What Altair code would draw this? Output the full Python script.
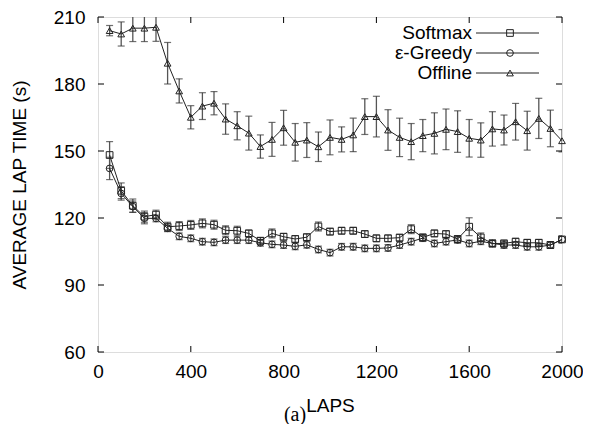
import altair as alt
import pandas as pd

laps = list(range(50, 2001, 50))

softmax = [148.2, 132.2, 125.5, 120.6, 121.5, 116.1, 116.4, 116.9, 117.6, 117.0,
           114.5, 114.3, 113.1, 109.8, 113.1, 111.6, 110.6, 111.4, 116.2, 113.9,
           114.3, 114.3, 112.8, 110.9, 110.9, 111.2, 115.0, 111.3, 113.1, 112.8,
           110.6, 116.1, 111.3, 108.6, 108.6, 109.4, 108.9, 108.9, 107.9, 110.4]
softmax_err = [6.0, 3.5, 3.0, 2.5, 2.0, 2.0, 2.0, 2.0, 2.0, 2.0,
               2.0, 2.0, 1.5, 1.5, 2.0, 1.5, 1.5, 1.5, 2.0, 1.5,
               1.5, 1.5, 1.5, 1.5, 1.5, 1.5, 2.0, 1.5, 1.5, 1.5,
               1.5, 4.0, 2.0, 1.5, 1.5, 1.5, 1.5, 1.5, 1.5, 1.5]

greedy = [142.2, 131.0, 125.1, 119.9, 119.8, 115.4, 111.8, 110.9, 109.4, 109.1,
          110.1, 110.1, 110.1, 108.9, 108.2, 107.9, 107.3, 108.0, 105.9, 104.5,
          107.1, 107.1, 106.4, 106.4, 106.6, 107.9, 109.4, 111.0, 108.6, 109.4,
          110.2, 108.6, 109.6, 108.6, 107.9, 107.9, 107.1, 107.1, 107.9, 110.4]
greedy_err = [5.0, 3.0, 2.5, 2.5, 1.5, 1.5, 1.5, 1.5, 1.5, 1.5,
              1.5, 1.5, 1.5, 1.5, 1.5, 1.5, 1.5, 1.5, 1.5, 1.5,
              1.5, 1.5, 1.5, 1.5, 1.5, 1.5, 1.5, 1.5, 1.5, 1.5,
              1.5, 1.5, 1.5, 1.5, 1.5, 1.5, 1.5, 1.5, 1.5, 1.5]

offline = [203.9, 202.4, 205.0, 205.0, 205.4, 189.3, 176.9, 165.1, 170.1, 171.4,
           164.3, 161.3, 158.0, 152.0, 155.2, 160.4, 153.9, 154.9, 151.9, 156.1,
           155.2, 157.2, 165.4, 165.4, 159.4, 156.1, 154.2, 156.9, 157.9, 159.7,
           158.7, 155.7, 154.9, 159.9, 159.4, 163.1, 159.1, 164.6, 160.1, 154.6]
offline_err = [2.3, 5.4, 6.0, 6.0, 6.3, 9.3, 5.4, 5.2, 6.0, 5.2,
               6.8, 6.3, 7.6, 5.2, 7.6, 7.8, 8.4, 7.8, 6.6, 7.8,
               5.6, 7.5, 8.0, 9.1, 9.1, 8.6, 8.1, 7.2, 9.2, 9.1,
               9.3, 8.4, 7.7, 7.7, 6.7, 8.2, 8.7, 9.0, 8.2, 5.0]

series_names = ["Softmax", "ε-Greedy", "Offline"]
shapes = ["square", "circle", "triangle-up"]
x_ticks = [0, 400, 800, 1200, 1600, 2000]
y_ticks = [60, 90, 120, 150, 180, 210]
caption = "(a)"

rows = []
for name, vals, errs in zip(series_names, [softmax, greedy, offline],
                            [softmax_err, greedy_err, offline_err]):
    for lap, v, e in zip(laps, vals, errs):
        rows.append({"lap": lap, "value": v, "lo": v - e, "hi": v + e, "series": name})
df = pd.DataFrame(rows)

FONT = "Liberation Sans"
FS = 19
W, H = 464, 335

xscale = alt.Scale(domain=[0, 2000], nice=False, zero=False)
yscale = alt.Scale(domain=[60, 210], nice=False, zero=False)
xaxis = alt.Axis(values=x_ticks, format="d", tickSize=0, domain=False, grid=False,
                 labelFont=FONT, labelFontSize=FS, labelColor="#000", labelPadding=10,
                 labelFlush=False, title="LAPS", titleFont=FONT, titleFontSize=FS,
                 titleFontWeight="normal", titleColor="#000", titlePadding=15)
yaxis = alt.Axis(values=y_ticks, format="d", tickSize=0, domain=False, grid=False,
                 labelFont=FONT, labelFontSize=FS, labelColor="#000", labelPadding=13,
                 labelFlush=False, title="AVERAGE LAP TIME (s)", titleFont=FONT,
                 titleFontSize=FS, titleFontWeight="normal", titleColor="#000",
                 titlePadding=24)


def X(field):
    return alt.X(field, type="quantitative", scale=xscale, axis=xaxis)


def Y(field):
    return alt.Y(field, type="quantitative", scale=yscale, axis=yaxis)


base = alt.Chart(df)

err_rule = base.mark_rule(color="#555", strokeWidth=1.3, clip=True).encode(
    x=X("lap"), y=Y("lo"), y2="hi", detail="series:N")
cap_lo = base.mark_tick(orient="horizontal", size=7, thickness=1.2, color="#333",
                        clip=True).encode(x=X("lap"), y=Y("lo"))
cap_hi = base.mark_tick(orient="horizontal", size=7, thickness=1.2, color="#333",
                        clip=True).encode(x=X("lap"), y=Y("hi"))
lines = base.mark_line(color="#222", strokeWidth=1).encode(
    x=X("lap"), y=Y("value"), detail="series:N", order="lap:Q")
points = base.mark_point(filled=False, color="#222", strokeWidth=1, size=45,
                         opacity=1).encode(
    x=X("lap"), y=Y("value"),
    shape=alt.Shape("series:N", scale=alt.Scale(domain=series_names, range=shapes),
                    legend=None))

# inward axis ticks (gnuplot style), on all four sides
ydf = pd.DataFrame({"t": y_ticks})
xdf = pd.DataFrame({"t": x_ticks})
tick_left = alt.Chart(ydf).mark_rule(color="#000", strokeWidth=1).encode(
    y=Y("t"), x=alt.value(0), x2=alt.value(6))
tick_right = alt.Chart(ydf).mark_rule(color="#000", strokeWidth=1).encode(
    y=Y("t"), x=alt.value(W - 6), x2=alt.value(W))
tick_bottom = alt.Chart(xdf).mark_rule(color="#000", strokeWidth=1).encode(
    x=X("t"), y=alt.value(H - 6), y2=alt.value(H))
tick_top = alt.Chart(xdf).mark_rule(color="#000", strokeWidth=1).encode(
    x=X("t"), y=alt.value(0), y2=alt.value(6))

# manual gnuplot-style legend (label left of sample)
legend_layers = []
leg_y = [16, 36, 56]
for name, shp, ly in zip(series_names, shapes, leg_y):
    d = alt.Data(values=[{"series": name}])
    legend_layers.append(alt.Chart(d).mark_text(
        align="right", baseline="middle", font=FONT, fontSize=FS, color="#000").encode(
        x=alt.value(374), y=alt.value(ly), text="series:N"))
    legend_layers.append(alt.Chart(d).mark_rule(color="#222", strokeWidth=1).encode(
        x=alt.value(378), x2=alt.value(441), y=alt.value(ly)))
    legend_layers.append(alt.Chart(d).mark_point(
        shape=shp, filled=False, color="#222", strokeWidth=1, size=45, opacity=1).encode(
        x=alt.value(412), y=alt.value(ly)))

cap = alt.Chart(alt.Data(values=[{"c": caption}])).mark_text(
    align="center", baseline="alphabetic", font="Liberation Serif", fontSize=20,
    color="#000").encode(x=alt.value(197), y=alt.value(404), text="c:N")

chart = alt.layer(
    err_rule, cap_lo, cap_hi, lines, points,
    tick_left, tick_right, tick_bottom, tick_top,
    *legend_layers, cap
).properties(
    width=W, height=H,
    autosize=alt.AutoSizeParams(type="none"),
    padding={"left": 90, "top": 9, "right": 21, "bottom": 72},
).configure_view(
    stroke="#000", strokeWidth=1.5
).configure(background="white")

chart.save("out.html", embed_options={"renderer": "svg", "actions": False})
